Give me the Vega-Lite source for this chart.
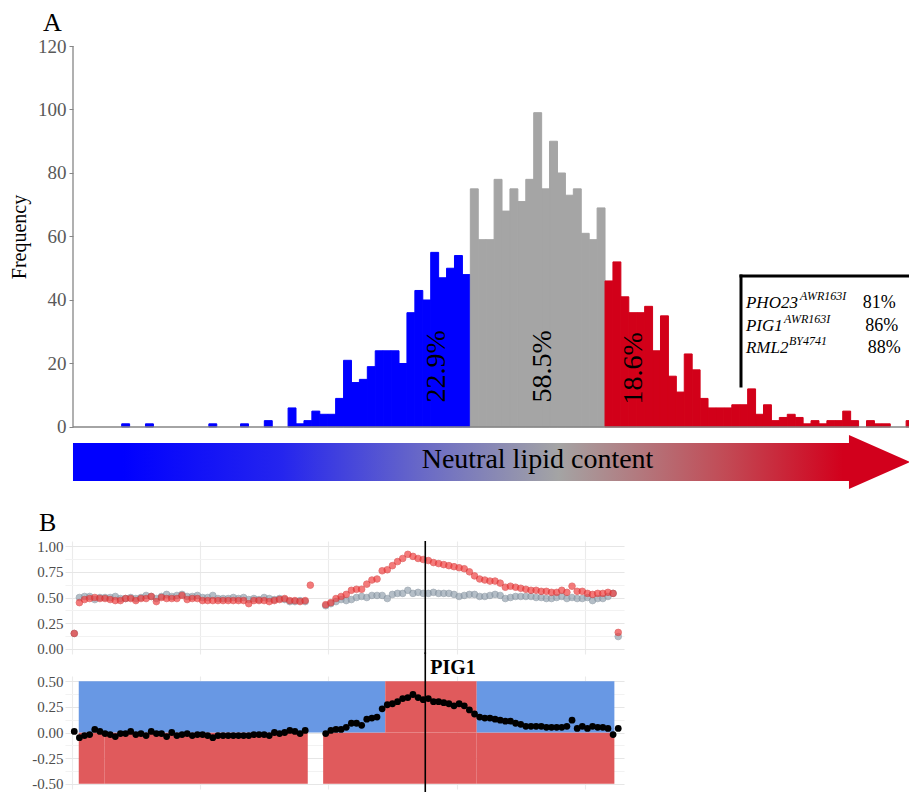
{
  "$schema": "https://vega.github.io/schema/vega-lite/v6.json",
  "background": "white",
  "padding": {"left": 9, "top": 10, "right": 0, "bottom": 0},
  "bounds": "flush",
  "spacing": 22,
  "resolve": {"scale": {"color": "independent", "stroke": "independent"}},
  "config": {"view": {"stroke": null}, "font": "Liberation Serif"},
  "datasets": {
    "hist": [
      {"bin_start": 6, "bin_end": 7, "count": 1, "group": "low"},
      {"bin_start": 9, "bin_end": 10, "count": 1, "group": "low"},
      {"bin_start": 17, "bin_end": 18, "count": 1, "group": "low"},
      {"bin_start": 21, "bin_end": 22, "count": 1, "group": "low"},
      {"bin_start": 24, "bin_end": 25, "count": 2, "group": "low"},
      {"bin_start": 27, "bin_end": 28, "count": 6, "group": "low"},
      {"bin_start": 28, "bin_end": 29, "count": 1, "group": "low"},
      {"bin_start": 29, "bin_end": 30, "count": 2, "group": "low"},
      {"bin_start": 30, "bin_end": 31, "count": 5, "group": "low"},
      {"bin_start": 31, "bin_end": 32, "count": 4, "group": "low"},
      {"bin_start": 32, "bin_end": 33, "count": 4, "group": "low"},
      {"bin_start": 33, "bin_end": 34, "count": 9, "group": "low"},
      {"bin_start": 34, "bin_end": 35, "count": 21, "group": "low"},
      {"bin_start": 35, "bin_end": 36, "count": 14, "group": "low"},
      {"bin_start": 36, "bin_end": 37, "count": 15, "group": "low"},
      {"bin_start": 37, "bin_end": 38, "count": 19, "group": "low"},
      {"bin_start": 38, "bin_end": 39, "count": 24, "group": "low"},
      {"bin_start": 39, "bin_end": 40, "count": 24, "group": "low"},
      {"bin_start": 40, "bin_end": 41, "count": 24, "group": "low"},
      {"bin_start": 41, "bin_end": 42, "count": 20, "group": "low"},
      {"bin_start": 42, "bin_end": 43, "count": 36, "group": "low"},
      {"bin_start": 43, "bin_end": 44, "count": 43, "group": "low"},
      {"bin_start": 44, "bin_end": 45, "count": 40, "group": "low"},
      {"bin_start": 45, "bin_end": 46, "count": 55, "group": "low"},
      {"bin_start": 46, "bin_end": 47, "count": 47, "group": "low"},
      {"bin_start": 47, "bin_end": 48, "count": 50, "group": "low"},
      {"bin_start": 48, "bin_end": 49, "count": 54, "group": "low"},
      {"bin_start": 49, "bin_end": 50, "count": 48, "group": "low"},
      {"bin_start": 50, "bin_end": 51, "count": 75, "group": "mid"},
      {"bin_start": 51, "bin_end": 52, "count": 59, "group": "mid"},
      {"bin_start": 52, "bin_end": 53, "count": 59, "group": "mid"},
      {"bin_start": 53, "bin_end": 54, "count": 78, "group": "mid"},
      {"bin_start": 54, "bin_end": 55, "count": 68, "group": "mid"},
      {"bin_start": 55, "bin_end": 56, "count": 75, "group": "mid"},
      {"bin_start": 56, "bin_end": 57, "count": 71, "group": "mid"},
      {"bin_start": 57, "bin_end": 58, "count": 78, "group": "mid"},
      {"bin_start": 58, "bin_end": 59, "count": 99, "group": "mid"},
      {"bin_start": 59, "bin_end": 60, "count": 75, "group": "mid"},
      {"bin_start": 60, "bin_end": 61, "count": 90, "group": "mid"},
      {"bin_start": 61, "bin_end": 62, "count": 80, "group": "mid"},
      {"bin_start": 62, "bin_end": 63, "count": 73, "group": "mid"},
      {"bin_start": 63, "bin_end": 64, "count": 75, "group": "mid"},
      {"bin_start": 64, "bin_end": 65, "count": 61, "group": "mid"},
      {"bin_start": 65, "bin_end": 66, "count": 59, "group": "mid"},
      {"bin_start": 66, "bin_end": 67, "count": 69, "group": "mid"},
      {"bin_start": 67, "bin_end": 68, "count": 46, "group": "high"},
      {"bin_start": 68, "bin_end": 69, "count": 52, "group": "high"},
      {"bin_start": 69, "bin_end": 70, "count": 41, "group": "high"},
      {"bin_start": 70, "bin_end": 71, "count": 36, "group": "high"},
      {"bin_start": 71, "bin_end": 72, "count": 36, "group": "high"},
      {"bin_start": 72, "bin_end": 73, "count": 38, "group": "high"},
      {"bin_start": 73, "bin_end": 74, "count": 24, "group": "high"},
      {"bin_start": 74, "bin_end": 75, "count": 35, "group": "high"},
      {"bin_start": 75, "bin_end": 76, "count": 16, "group": "high"},
      {"bin_start": 76, "bin_end": 77, "count": 11, "group": "high"},
      {"bin_start": 77, "bin_end": 78, "count": 23, "group": "high"},
      {"bin_start": 78, "bin_end": 79, "count": 18, "group": "high"},
      {"bin_start": 79, "bin_end": 80, "count": 9, "group": "high"},
      {"bin_start": 80, "bin_end": 81, "count": 6, "group": "high"},
      {"bin_start": 81, "bin_end": 82, "count": 6, "group": "high"},
      {"bin_start": 82, "bin_end": 83, "count": 6, "group": "high"},
      {"bin_start": 83, "bin_end": 84, "count": 7, "group": "high"},
      {"bin_start": 84, "bin_end": 85, "count": 7, "group": "high"},
      {"bin_start": 85, "bin_end": 86, "count": 12, "group": "high"},
      {"bin_start": 86, "bin_end": 87, "count": 4, "group": "high"},
      {"bin_start": 87, "bin_end": 88, "count": 7, "group": "high"},
      {"bin_start": 88, "bin_end": 89, "count": 2, "group": "high"},
      {"bin_start": 89, "bin_end": 90, "count": 3, "group": "high"},
      {"bin_start": 90, "bin_end": 91, "count": 4, "group": "high"},
      {"bin_start": 91, "bin_end": 92, "count": 3, "group": "high"},
      {"bin_start": 92, "bin_end": 93, "count": 1, "group": "high"},
      {"bin_start": 93, "bin_end": 94, "count": 2, "group": "high"},
      {"bin_start": 94, "bin_end": 95, "count": 1, "group": "high"},
      {"bin_start": 95, "bin_end": 96, "count": 2, "group": "high"},
      {"bin_start": 96, "bin_end": 97, "count": 2, "group": "high"},
      {"bin_start": 97, "bin_end": 98, "count": 5, "group": "high"},
      {"bin_start": 98, "bin_end": 99, "count": 2, "group": "high"},
      {"bin_start": 100, "bin_end": 101, "count": 2, "group": "high"},
      {"bin_start": 101, "bin_end": 102, "count": 1, "group": "high"},
      {"bin_start": 102, "bin_end": 103, "count": 1, "group": "high"},
      {"bin_start": 105, "bin_end": 106, "count": 2, "group": "high"}
    ],
    "chrom": [
      {"pos": 2, "red": 0.15, "gray": 0.15, "diff": 0.01},
      {"pos": 6, "red": 0.45, "gray": 0.50, "diff": -0.05},
      {"pos": 10, "red": 0.48, "gray": 0.51, "diff": -0.03},
      {"pos": 14, "red": 0.49, "gray": 0.51, "diff": -0.02},
      {"pos": 18, "red": 0.50, "gray": 0.48, "diff": 0.03},
      {"pos": 22, "red": 0.49, "gray": 0.50, "diff": 0.01},
      {"pos": 26, "red": 0.49, "gray": 0.50, "diff": -0.01},
      {"pos": 30, "red": 0.48, "gray": 0.50, "diff": -0.02},
      {"pos": 34, "red": 0.47, "gray": 0.51, "diff": -0.04},
      {"pos": 38, "red": 0.47, "gray": 0.49, "diff": -0.01},
      {"pos": 42, "red": 0.49, "gray": 0.49, "diff": -0.01},
      {"pos": 46, "red": 0.49, "gray": 0.50, "diff": 0.01},
      {"pos": 50, "red": 0.47, "gray": 0.49, "diff": -0.02},
      {"pos": 54, "red": 0.49, "gray": 0.50, "diff": -0.01},
      {"pos": 58, "red": 0.49, "gray": 0.52, "diff": -0.03},
      {"pos": 62, "red": 0.51, "gray": 0.51, "diff": 0.01},
      {"pos": 66, "red": 0.46, "gray": 0.49, "diff": -0.01},
      {"pos": 70, "red": 0.50, "gray": 0.51, "diff": -0.01},
      {"pos": 74, "red": 0.49, "gray": 0.53, "diff": -0.04},
      {"pos": 78, "red": 0.49, "gray": 0.51, "diff": 0.00},
      {"pos": 82, "red": 0.49, "gray": 0.52, "diff": -0.03},
      {"pos": 86, "red": 0.52, "gray": 0.53, "diff": -0.02},
      {"pos": 90, "red": 0.48, "gray": 0.51, "diff": -0.01},
      {"pos": 94, "red": 0.49, "gray": 0.51, "diff": -0.03},
      {"pos": 98, "red": 0.49, "gray": 0.52, "diff": -0.02},
      {"pos": 102, "red": 0.47, "gray": 0.50, "diff": -0.02},
      {"pos": 106, "red": 0.47, "gray": 0.50, "diff": -0.03},
      {"pos": 110, "red": 0.47, "gray": 0.52, "diff": -0.05},
      {"pos": 114, "red": 0.47, "gray": 0.49, "diff": -0.03},
      {"pos": 118, "red": 0.47, "gray": 0.49, "diff": -0.03},
      {"pos": 122, "red": 0.47, "gray": 0.49, "diff": -0.03},
      {"pos": 126, "red": 0.47, "gray": 0.50, "diff": -0.03},
      {"pos": 130, "red": 0.47, "gray": 0.49, "diff": -0.03},
      {"pos": 134, "red": 0.47, "gray": 0.50, "diff": -0.03},
      {"pos": 138, "red": 0.44, "gray": 0.48, "diff": -0.03},
      {"pos": 142, "red": 0.47, "gray": 0.49, "diff": -0.02},
      {"pos": 146, "red": 0.47, "gray": 0.48, "diff": -0.02},
      {"pos": 150, "red": 0.47, "gray": 0.50, "diff": -0.02},
      {"pos": 154, "red": 0.46, "gray": 0.49, "diff": -0.03},
      {"pos": 158, "red": 0.47, "gray": 0.48, "diff": 0.00},
      {"pos": 162, "red": 0.48, "gray": 0.49, "diff": -0.01},
      {"pos": 166, "red": 0.49, "gray": 0.48, "diff": 0.00},
      {"pos": 170, "red": 0.47, "gray": 0.46, "diff": 0.02},
      {"pos": 174, "red": 0.47, "gray": 0.46, "diff": 0.01},
      {"pos": 178, "red": 0.46, "gray": 0.47, "diff": -0.01},
      {"pos": 182, "red": 0.47, "gray": 0.46, "diff": 0.02},
      {"pos": 186, "red": 0.62, "gray": null, "diff": null},
      {"pos": 198, "red": 0.43, "gray": 0.42, "diff": -0.01},
      {"pos": 202, "red": 0.45, "gray": 0.44, "diff": 0.02},
      {"pos": 206, "red": 0.49, "gray": 0.46, "diff": 0.03},
      {"pos": 210, "red": 0.51, "gray": 0.48, "diff": 0.03},
      {"pos": 214, "red": 0.53, "gray": 0.47, "diff": 0.05},
      {"pos": 218, "red": 0.57, "gray": 0.48, "diff": 0.09},
      {"pos": 222, "red": 0.58, "gray": 0.50, "diff": 0.09},
      {"pos": 226, "red": 0.58, "gray": 0.51, "diff": 0.07},
      {"pos": 230, "red": 0.63, "gray": 0.50, "diff": 0.13},
      {"pos": 234, "red": 0.67, "gray": 0.52, "diff": 0.14},
      {"pos": 238, "red": 0.68, "gray": 0.52, "diff": 0.15},
      {"pos": 242, "red": 0.76, "gray": 0.52, "diff": 0.23},
      {"pos": 246, "red": 0.77, "gray": 0.49, "diff": 0.27},
      {"pos": 250, "red": 0.81, "gray": 0.53, "diff": 0.28},
      {"pos": 254, "red": 0.85, "gray": 0.54, "diff": 0.30},
      {"pos": 258, "red": 0.88, "gray": 0.54, "diff": 0.33},
      {"pos": 262, "red": 0.92, "gray": 0.57, "diff": 0.34},
      {"pos": 266, "red": 0.90, "gray": 0.54, "diff": 0.37},
      {"pos": 270, "red": 0.88, "gray": 0.55, "diff": 0.34},
      {"pos": 274, "red": 0.87, "gray": 0.54, "diff": 0.32},
      {"pos": 278, "red": 0.86, "gray": 0.54, "diff": 0.33},
      {"pos": 282, "red": 0.84, "gray": 0.55, "diff": 0.30},
      {"pos": 286, "red": 0.83, "gray": 0.54, "diff": 0.30},
      {"pos": 290, "red": 0.82, "gray": 0.54, "diff": 0.29},
      {"pos": 294, "red": 0.81, "gray": 0.54, "diff": 0.28},
      {"pos": 298, "red": 0.80, "gray": 0.53, "diff": 0.26},
      {"pos": 302, "red": 0.79, "gray": 0.51, "diff": 0.28},
      {"pos": 306, "red": 0.78, "gray": 0.52, "diff": 0.26},
      {"pos": 310, "red": 0.75, "gray": 0.53, "diff": 0.22},
      {"pos": 314, "red": 0.71, "gray": 0.53, "diff": 0.18},
      {"pos": 318, "red": 0.68, "gray": 0.51, "diff": 0.15},
      {"pos": 322, "red": 0.67, "gray": 0.51, "diff": 0.14},
      {"pos": 326, "red": 0.66, "gray": 0.52, "diff": 0.14},
      {"pos": 330, "red": 0.66, "gray": 0.53, "diff": 0.13},
      {"pos": 334, "red": 0.64, "gray": 0.52, "diff": 0.12},
      {"pos": 338, "red": 0.60, "gray": 0.49, "diff": 0.11},
      {"pos": 342, "red": 0.61, "gray": 0.50, "diff": 0.11},
      {"pos": 346, "red": 0.60, "gray": 0.51, "diff": 0.09},
      {"pos": 350, "red": 0.59, "gray": 0.51, "diff": 0.08},
      {"pos": 354, "red": 0.58, "gray": 0.51, "diff": 0.06},
      {"pos": 358, "red": 0.57, "gray": 0.51, "diff": 0.06},
      {"pos": 362, "red": 0.57, "gray": 0.50, "diff": 0.06},
      {"pos": 366, "red": 0.56, "gray": 0.50, "diff": 0.06},
      {"pos": 370, "red": 0.56, "gray": 0.49, "diff": 0.05},
      {"pos": 374, "red": 0.55, "gray": 0.49, "diff": 0.05},
      {"pos": 378, "red": 0.55, "gray": 0.50, "diff": 0.05},
      {"pos": 382, "red": 0.57, "gray": 0.51, "diff": 0.05},
      {"pos": 386, "red": 0.55, "gray": 0.49, "diff": 0.06},
      {"pos": 390, "red": 0.61, "gray": 0.50, "diff": 0.12},
      {"pos": 394, "red": 0.56, "gray": 0.49, "diff": 0.04},
      {"pos": 398, "red": 0.56, "gray": 0.49, "diff": 0.06},
      {"pos": 402, "red": 0.54, "gray": 0.50, "diff": 0.04},
      {"pos": 406, "red": 0.53, "gray": 0.47, "diff": 0.06},
      {"pos": 410, "red": 0.54, "gray": 0.49, "diff": 0.05},
      {"pos": 414, "red": 0.54, "gray": 0.49, "diff": 0.05},
      {"pos": 418, "red": 0.55, "gray": 0.51, "diff": 0.04},
      {"pos": 422, "red": 0.54, "gray": 0.54, "diff": -0.02},
      {"pos": 426, "red": 0.16, "gray": 0.12, "diff": 0.04}
    ],
    "segments": [
      {"start": 5.5, "end": 25.4, "lo": -0.5, "hi": 0, "call": "red"},
      {"start": 25.4, "end": 184, "lo": -0.5, "hi": 0, "call": "red"},
      {"start": 196, "end": 315.7, "lo": -0.5, "hi": 0, "call": "red"},
      {"start": 315.7, "end": 423, "lo": -0.5, "hi": 0, "call": "red"},
      {"start": 5.5, "end": 244.4, "lo": 0, "hi": 0.5, "call": "blue"},
      {"start": 244.4, "end": 315.7, "lo": 0, "hi": 0.5, "call": "red"},
      {"start": 315.7, "end": 423, "lo": 0, "hi": 0.5, "call": "blue"}
    ]
  },
  "vconcat": [
    {
      "width": 845,
      "height": 473,
      "title": {"text": "A", "anchor": "start", "frame": "group", "dx": -22, "offset": -20, "fontSize": 26, "font": "Liberation Serif", "fontWeight": "normal", "baseline": "alphabetic", "color": "#000000"},
      "resolve": {"axis": {"y": "independent", "x": "independent"}},
      "layer": [
        {
          "data": {"name": "hist"},
          "mark": {"type": "rect", "clip": true, "strokeWidth": 1},
          "encoding": {
            "x": {"field": "bin_start", "type": "quantitative", "scale": {"domain": [-1.156, 105.49], "nice": false, "zero": false}, "axis": null},
            "x2": {"field": "bin_end"},
            "y": {"field": "count", "type": "quantitative", "scale": {"domain": [-28.98, 120], "nice": false, "zero": false},
                  "axis": {"orient": "left", "values": [0, 20, 40, 60, 80, 100, 120], "domain": false, "grid": false, "ticks": true, "tickSize": 4, "tickColor": "#868686", "offset": -8, "labelOverlap": false,
                           "labelFont": "Liberation Serif", "labelFontSize": 19, "labelColor": "#595959", "labelPadding": 3,
                           "title": "Frequency", "titleFont": "Liberation Serif", "titleFontSize": 20, "titleFontWeight": "normal", "titleColor": "#000000", "titlePadding": 8, "titleY": 190.5}},
            "y2": {"datum": 0},
            "color": {"field": "group", "type": "nominal", "scale": {"domain": ["low", "mid", "high"], "range": ["#0000FF", "#A5A5A5", "#D20019"]}, "legend": null},
            "stroke": {"field": "group", "type": "nominal", "scale": {"domain": ["low", "mid", "high"], "range": ["#0000FF", "#A5A5A5", "#D20019"]}, "legend": null}
          }
        },
        {
          "data": {"values": [{}]},
          "mark": {"type": "rule", "color": "#868686", "strokeWidth": 1.3},
          "encoding": {
            "x": {"datum": -0.146, "type": "quantitative", "scale": {"domain": [-1.156, 105.49], "nice": false, "zero": false}, "axis": null},
            "y": {"datum": 0, "type": "quantitative", "scale": {"domain": [-28.98, 120], "nice": false, "zero": false}, "axis": null},
            "y2": {"datum": 120}
          }
        },
        {
          "data": {"values": [{}]},
          "mark": {"type": "rule", "color": "#868686", "strokeWidth": 1.3},
          "encoding": {
            "x": {"datum": -0.146, "type": "quantitative", "scale": {"domain": [-1.156, 105.49], "nice": false, "zero": false}, "axis": null},
            "x2": {"datum": 105.49},
            "y": {"datum": 0, "type": "quantitative", "scale": {"domain": [-28.98, 120], "nice": false, "zero": false}, "axis": null}
          }
        },
        {
          "data": {"values": [{}]},
          "mark": {"type": "point", "filled": true, "opacity": 1, "strokeWidth": 0, "size": 700569,
                   "shape": "M-1,-0.0454L0.8542,-0.0454L0.8542,-0.0645L1,0L0.8542,0.0645L0.8542,0.0454L-1,0.0454Z",
                   "color": {"gradient": "linear", "x1": 0, "y1": 0, "x2": 1, "y2": 0,
                             "stops": [{"offset": 0, "color": "#0000FF"}, {"offset": 0.06, "color": "#0000FF"}, {"offset": 0.25, "color": "#2525EE"}, {"offset": 0.42, "color": "#6A6AC6"}, {"offset": 0.58, "color": "#A4A4A4"}, {"offset": 0.78, "color": "#C24A55"}, {"offset": 0.92, "color": "#D2001C"}, {"offset": 1, "color": "#D2001C"}]}},
          "encoding": {
            "x": {"datum": 52.67, "type": "quantitative", "scale": {"domain": [-1.156, 105.49], "nice": false, "zero": false}, "axis": null},
            "y": {"datum": -11.02, "type": "quantitative", "scale": {"domain": [-28.98, 120], "nice": false, "zero": false}, "axis": null}
          }
        },
        {
          "data": {"values": [{"label": "Neutral lipid content"}]},
          "mark": {"type": "text", "font": "Liberation Serif", "fontSize": 28, "color": "#000000", "align": "center", "baseline": "alphabetic"},
          "encoding": {
            "x": {"datum": 58.48, "type": "quantitative", "scale": {"domain": [-1.156, 105.49], "nice": false, "zero": false}, "axis": null},
            "y": {"datum": -13.07, "type": "quantitative", "scale": {"domain": [-28.98, 120], "nice": false, "zero": false}, "axis": null},
            "text": {"field": "label"}
          }
        },
        {
          "data": {"values": [{"pct": "22.9%", "x": 45.79, "y": 19.1}, {"pct": "58.5%", "x": 59.11, "y": 19.1}, {"pct": "18.6%", "x": 70.66, "y": 18.5}]},
          "mark": {"type": "text", "font": "Liberation Serif", "fontSize": 28, "color": "#000000", "angle": 270, "align": "center", "baseline": "middle"},
          "encoding": {
            "x": {"field": "x", "type": "quantitative", "scale": {"domain": [-1.156, 105.49], "nice": false, "zero": false}, "axis": null},
            "y": {"field": "y", "type": "quantitative", "scale": {"domain": [-28.98, 120], "nice": false, "zero": false}, "axis": null},
            "text": {"field": "pct"}
          }
        },
        {
          "data": {"values": [{"x": 84.16, "x2": 84.16, "y": 12.91, "y2": 47.56}, {"x": 84.16, "x2": 105.49, "y": 47.56, "y2": 47.56}]},
          "mark": {"type": "rule", "color": "#000000", "strokeWidth": 3, "strokeCap": "square"},
          "encoding": {
            "x": {"field": "x", "type": "quantitative", "scale": {"domain": [-1.156, 105.49], "nice": false, "zero": false}, "axis": null},
            "x2": {"field": "x2"},
            "y": {"field": "y", "type": "quantitative", "scale": {"domain": [-28.98, 120], "nice": false, "zero": false}, "axis": null},
            "y2": {"field": "y2"}
          }
        },
        {
          "data": {"values": [{"gene": "PHO23", "x": 84.79, "y": 37.48}, {"gene": "PIG1", "x": 84.79, "y": 30.33}, {"gene": "RML2", "x": 84.79, "y": 23.21}]},
          "mark": {"type": "text", "font": "Liberation Serif", "fontSize": 17, "fontStyle": "italic", "color": "#000000", "align": "left", "baseline": "alphabetic"},
          "encoding": {
            "x": {"field": "x", "type": "quantitative", "scale": {"domain": [-1.156, 105.49], "nice": false, "zero": false}, "axis": null},
            "y": {"field": "y", "type": "quantitative", "scale": {"domain": [-28.98, 120], "nice": false, "zero": false}, "axis": null},
            "text": {"field": "gene"}
          }
        },
        {
          "data": {"values": [{"allele": "AWR163I", "x": 91.61, "y": 40.0}, {"allele": "AWR163I", "x": 89.59, "y": 32.85}, {"allele": "BY4741", "x": 90.22, "y": 25.73}]},
          "mark": {"type": "text", "font": "Liberation Serif", "fontSize": 12, "fontStyle": "italic", "color": "#000000", "align": "left", "baseline": "alphabetic"},
          "encoding": {
            "x": {"field": "x", "type": "quantitative", "scale": {"domain": [-1.156, 105.49], "nice": false, "zero": false}, "axis": null},
            "y": {"field": "y", "type": "quantitative", "scale": {"domain": [-28.98, 120], "nice": false, "zero": false}, "axis": null},
            "text": {"field": "allele"}
          }
        },
        {
          "data": {"values": [{"share": "81%", "x": 99.52, "y": 37.48}, {"share": "86%", "x": 99.85, "y": 30.33}, {"share": "88%", "x": 100.15, "y": 23.21}]},
          "mark": {"type": "text", "font": "Liberation Serif", "fontSize": 18, "color": "#000000", "align": "left", "baseline": "alphabetic"},
          "encoding": {
            "x": {"field": "x", "type": "quantitative", "scale": {"domain": [-1.156, 105.49], "nice": false, "zero": false}, "axis": null},
            "y": {"field": "y", "type": "quantitative", "scale": {"domain": [-28.98, 120], "nice": false, "zero": false}, "axis": null},
            "text": {"field": "share"}
          }
        }
      ]
    },
    {
      "width": 559,
      "height": 113,
      "title": {"text": "B", "anchor": "start", "frame": "group", "dx": -26, "offset": -18, "fontSize": 26, "font": "Liberation Serif", "fontWeight": "normal", "baseline": "alphabetic", "color": "#000000"},
      "resolve": {"axis": {"y": "independent"}},
      "layer": [
        {
          "data": {"name": "chrom"},
          "mark": {"type": "circle", "size": 44, "color": "#95A3B0", "opacity": 0.7, "stroke": "#7D8B98", "strokeWidth": 0.8},
          "encoding": {
            "x": {"field": "pos", "type": "quantitative", "scale": {"domain": [-5.22, 430.5], "nice": false, "zero": false},
                  "axis": {"values": [0, 100, 200, 300, 400], "grid": true, "gridColor": "#EBEBEB", "gridWidth": 1.1, "labels": false, "ticks": false, "domain": false, "title": null}},
            "y": {"field": "gray", "type": "quantitative", "scale": {"domain": [-0.05, 1.05], "nice": false, "zero": false},
                  "axis": {"orient": "left", "values": [0, 0.25, 0.5, 0.75, 1], "format": ".2f", "grid": true, "gridWidth": 1.1, "gridColor": "#E6E6E6", "labelOverlap": false,
                           "ticks": false, "tickSize": 0, "domain": false, "title": null, "labelPadding": 2,
                           "labelFont": "Liberation Serif", "labelFontSize": 15, "labelColor": "#4D4D4D"}}
          }
        },
        {
          "data": {"name": "chrom"},
          "mark": {"type": "circle", "size": 44, "color": "#F03C3C", "opacity": 0.68, "stroke": "#D42A2A", "strokeWidth": 0.8},
          "encoding": {
            "x": {"field": "pos", "type": "quantitative", "scale": {"domain": [-5.22, 430.5], "nice": false, "zero": false}},
            "y": {"field": "red", "type": "quantitative", "scale": {"domain": [-0.05, 1.05], "nice": false, "zero": false},
                  "axis": {"orient": "left", "offset": 0, "values": [0.125, 0.375, 0.625, 0.875], "grid": true, "gridWidth": 1.1, "gridColor": "#F2F2F2", "labels": false, "ticks": false, "domain": false, "title": null}}
          }
        },
        {
          "data": {"values": [{}]},
          "mark": {"type": "rule", "color": "#000000", "strokeWidth": 1.6},
          "encoding": {
            "x": {"datum": 275.6, "type": "quantitative", "scale": {"domain": [-5.22, 430.5], "nice": false, "zero": false}},
            "y": {"datum": -0.05, "type": "quantitative", "scale": {"domain": [-0.05, 1.05], "nice": false, "zero": false}, "axis": null},
            "y2": {"datum": 1.05}
          }
        }
      ]
    },
    {
      "width": 559,
      "height": 113,
      "resolve": {"axis": {"y": "independent"}},
      "layer": [
        {
          "data": {"name": "segments"},
          "mark": {"type": "rect"},
          "encoding": {
            "x": {"field": "start", "type": "quantitative", "scale": {"domain": [-5.22, 430.5], "nice": false, "zero": false},
                  "axis": {"values": [0, 100, 200, 300, 400], "grid": true, "gridColor": "#EBEBEB", "gridWidth": 1.1, "labels": false, "ticks": false, "domain": false, "title": null}},
            "x2": {"field": "end"},
            "y": {"field": "lo", "type": "quantitative", "scale": {"domain": [-0.55, 0.55], "nice": false, "zero": false},
                  "axis": {"orient": "left", "values": [-0.5, -0.25, 0, 0.25, 0.5], "format": ".2f", "grid": true, "gridWidth": 1.1, "gridColor": "#E6E6E6", "labelOverlap": false,
                           "labelExpr": "replace(datum.label, '\u2212', '-')",
                           "ticks": false, "tickSize": 0, "domain": false, "title": null, "labelPadding": 2,
                           "labelFont": "Liberation Serif", "labelFontSize": 15, "labelColor": "#4D4D4D"}},
            "y2": {"field": "hi"},
            "color": {"field": "call", "type": "nominal", "scale": {"domain": ["blue", "red"], "range": ["#6898E4", "#E05A5C"]}, "legend": null}
          }
        },
        {
          "data": {"name": "chrom"},
          "mark": {"type": "circle", "size": 46, "color": "#000000", "opacity": 1},
          "encoding": {
            "x": {"field": "pos", "type": "quantitative", "scale": {"domain": [-5.22, 430.5], "nice": false, "zero": false}},
            "y": {"field": "diff", "type": "quantitative", "scale": {"domain": [-0.55, 0.55], "nice": false, "zero": false},
                  "axis": {"orient": "left", "offset": 0, "values": [-0.375, -0.125, 0.125, 0.375], "grid": true, "gridWidth": 1.1, "gridColor": "#F2F2F2", "labels": false, "ticks": false, "domain": false, "title": null}}
          }
        },
        {
          "data": {"values": [{}]},
          "mark": {"type": "rule", "color": "#000000", "strokeWidth": 1.6},
          "encoding": {
            "x": {"datum": 275.6, "type": "quantitative", "scale": {"domain": [-5.22, 430.5], "nice": false, "zero": false}},
            "y": {"datum": -0.58, "type": "quantitative", "scale": {"domain": [-0.55, 0.55], "nice": false, "zero": false}, "axis": null},
            "y2": {"datum": 0.78}
          }
        },
        {
          "data": {"values": [{"gene": "PIG1"}]},
          "mark": {"type": "text", "font": "Liberation Serif", "fontSize": 20, "fontWeight": "bold", "color": "#000000", "align": "left", "baseline": "alphabetic", "dx": 5},
          "encoding": {
            "x": {"datum": 275.6, "type": "quantitative", "scale": {"domain": [-5.22, 430.5], "nice": false, "zero": false}},
            "y": {"datum": 0.565, "type": "quantitative", "scale": {"domain": [-0.55, 0.55], "nice": false, "zero": false}, "axis": null},
            "text": {"field": "gene"}
          }
        }
      ]
    }
  ]
}
